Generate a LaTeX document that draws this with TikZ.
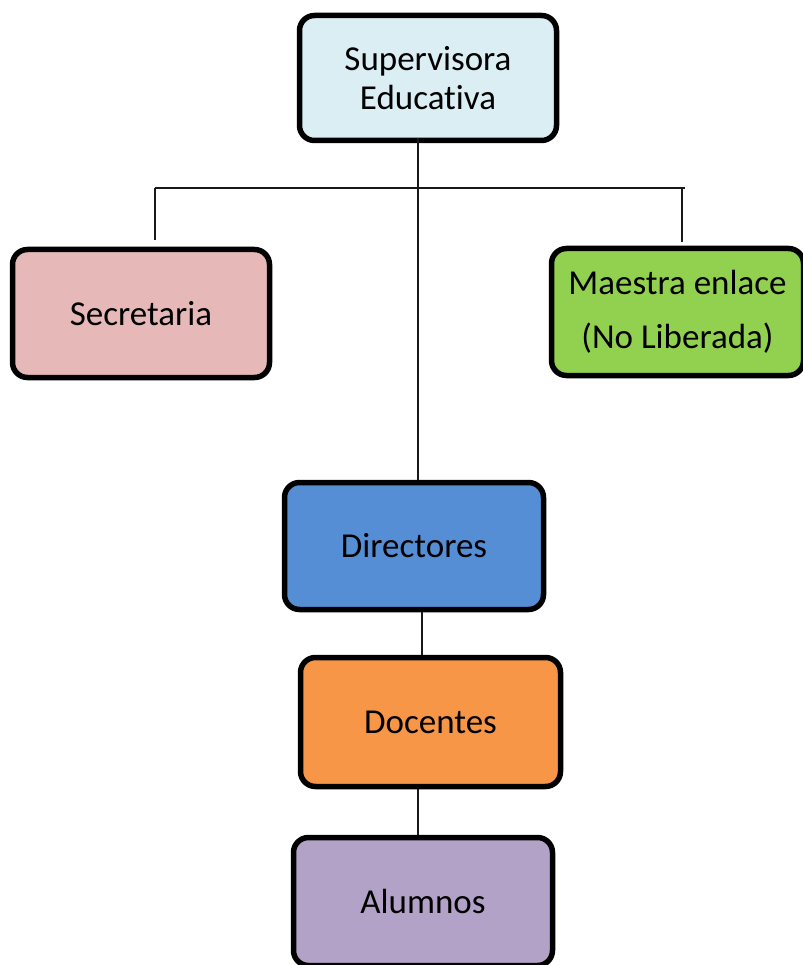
\documentclass[tikz,border=0pt]{standalone}
\usepackage{fontspec}
\setmainfont{Carlito}[Ligatures={NoCommon}]
\definecolor{csup}{HTML}{DAEEF3}
\definecolor{csec}{HTML}{E6B9B8}
\definecolor{cmae}{HTML}{92D050}
\definecolor{cdir}{HTML}{558ED5}
\definecolor{cdoc}{HTML}{F79646}
\definecolor{calu}{HTML}{B3A2C7}
\tikzset{
  orgbox/.style={draw=black, line width=5.5pt, rounded corners=15pt, rectangle,
    inner sep=0pt, align=center, font=\fontsize{35}{39}\selectfont},
  conn/.style={draw=black!90, line width=1.6pt}
}
\begin{document}
\begin{tikzpicture}[x=1pt,y=1pt]
\useasboundingbox (0,0) rectangle (802,-965);
\node[orgbox, fill=csup, minimum width=257pt, minimum height=125pt] (sup) at (428,-78) {Supervisora\\Educativa};
\node[orgbox, fill=csec, minimum width=257pt, minimum height=128pt] (sec) at (141,-313.5) {Secretaria};
\node[orgbox, fill=cmae, minimum width=252pt, minimum height=127pt, font=\fontsize{35}{54}\selectfont] (mae) at (677.5,-312) {Maestra enlace\\(No Liberada)};
\node[orgbox, fill=cdir, minimum width=259pt, minimum height=127pt] (dir) at (414,-546) {Directores};
\node[orgbox, fill=cdoc, minimum width=260pt, minimum height=129pt] (doc) at (430.5,-722) {Docentes};
\node[orgbox, fill=calu, minimum width=259pt, minimum height=128pt] (alu) at (423,-901.5) {Alumnos};
\coordinate (bl) at (155,-188);
\coordinate (br) at (685,-188);
\coordinate (blend) at (155,-240);
\coordinate (brend) at (682,-242);
\draw[conn] ([xshift=-10pt,yshift=5pt]sup.south) -- ([xshift=-10pt]sup.south |- dir.north);
\draw[conn] (bl) -- (br);
\draw[conn] (bl) -- (blend);
\draw[conn] (682,-188) -- (brend);
\draw[conn] ([xshift=8pt]dir.south) -- ([xshift=8pt]dir.south |- doc.north);
\draw[conn] ([xshift=-12.5pt]doc.south) -- ([xshift=-12.5pt]doc.south |- alu.north);
\end{tikzpicture}
\end{document}
